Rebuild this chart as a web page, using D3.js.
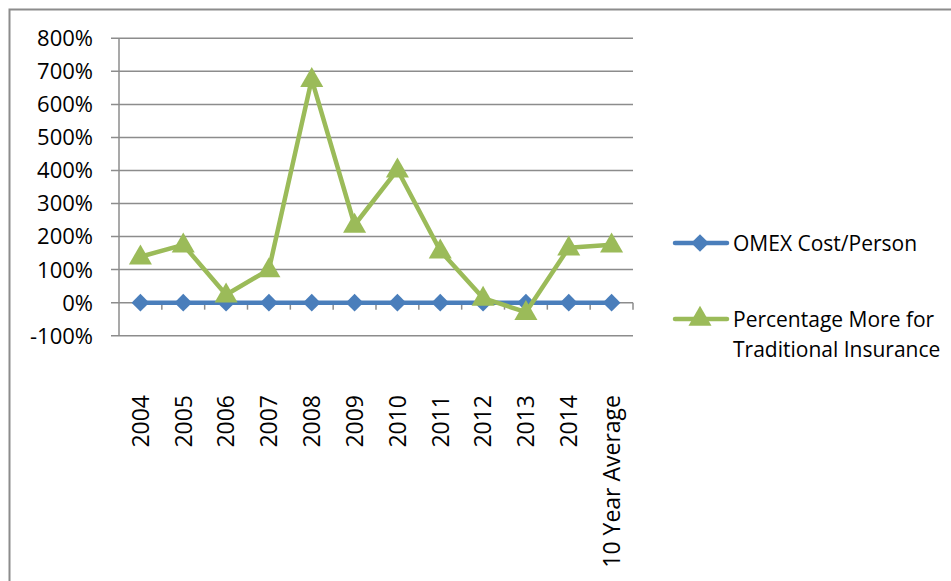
<!doctype html>
<html>
<head>
<meta charset="UTF-8">
<title>OMEX chart</title>
<script src="https://d3js.org/d3.v7.min.js"></script>
<style>
  body { margin: 0; background: #fff; }
  text { font-family: "Open Sans", "DejaVu Sans", sans-serif; fill: #000; }
</style>
</head>
<body>
<svg width="951" height="581"></svg>
<script>
var categories = ["2004", "2005", "2006", "2007", "2008", "2009", "2010", "2011", "2012", "2013", "2014", "10 Year Average"];
var omex = [0, 0, 0, 0, 0, 0, 0, 0, 0, 0, 0, 0];
var traditional = [1.39, 1.75, 0.24, 1.00, 6.76, 2.35, 4.02, 1.57, 0.14, -0.29, 1.66, 1.75];
var yTicks = [-1, 0, 1, 2, 3, 4, 5, 6, 7, 8];
var seriesNames = ["OMEX Cost/Person", "Percentage More for|Traditional Insurance"];

var svg = d3.select("svg");
var plotL = 119, plotR = 633, plotT = 38.3, plotB = 335.7;

// outer chart border
svg.append("rect")
   .attr("x", 9.5).attr("y", 9.5).attr("width", 960).attr("height", 600)
   .attr("fill", "none").attr("stroke", "#8c8c8c").attr("stroke-width", 2);

var x = d3.scaleBand().domain(categories).range([plotL, plotR]);
var y = d3.scaleLinear().domain([-1, 8]).range([plotB, plotT]);
var pct = d3.formatLocale({ decimal: ".", thousands: ",", grouping: [3], currency: ["", ""], minus: "-" }).format(".0%");

// gridlines + left ticks
svg.selectAll("line.grid").data(yTicks).enter().append("line")
   .attr("x1", plotL - 8).attr("x2", plotR)
   .attr("y1", function(d){ return y(d); })
   .attr("y2", function(d){ return y(d); })
   .attr("stroke", "#8c8c8c").attr("stroke-width", 1.5);

// y axis line
svg.append("line").attr("x1", plotL).attr("x2", plotL).attr("y1", plotT).attr("y2", plotB)
   .attr("stroke", "#8c8c8c").attr("stroke-width", 1.5);

// y labels
svg.selectAll("text.ylab").data(yTicks).enter().append("text")
   .attr("x", 93).attr("y", function(d){ return y(d); })
   .attr("dy", "0.36em")
   .attr("text-anchor", "end")
   .attr("font-size", 22)
   .text(function(d){ return pct(d); });

// category ticks on the zero line
var bounds = categories.map(function(c){ return x(c); }).concat([plotR]);
svg.selectAll("line.ctick").data(bounds.slice(1)).enter().append("line")
   .attr("x1", function(d){ return d; }).attr("x2", function(d){ return d; })
   .attr("y1", y(0)).attr("y2", y(0) + 7)
   .attr("stroke", "#8c8c8c").attr("stroke-width", 1.5);

// x labels
svg.selectAll("text.xlab").data(categories).enter().append("text")
   .attr("transform", function(d){
       return "translate(" + (x(d) + x.bandwidth() / 2) + ",395) rotate(-90)";
   })
   .attr("dy", "0.36em")
   .attr("text-anchor", "end")
   .attr("font-family", "'Liberation Sans', Arial, sans-serif")
   .attr("font-size", 23)
   .text(function(d){ return d; });

var line = d3.line()
   .x(function(d, i){ return x(categories[i]) + x.bandwidth() / 2; })
   .y(function(d){ return y(d); });

var blue = "#4a7ebb", green = "#9bbb59";
var diamond = d3.symbol().type(d3.symbolDiamond2).size(200);
var tri = d3.symbol().type(d3.symbolTriangle).size(230);

// OMEX series
svg.append("path").datum(omex).attr("d", line)
   .attr("fill", "none").attr("stroke", blue).attr("stroke-width", 4.5);
svg.selectAll("path.dia").data(omex).enter().append("path")
   .attr("d", diamond)
   .attr("transform", function(d, i){
       return "translate(" + (x(categories[i]) + x.bandwidth() / 2) + "," + y(d) + ")";
   })
   .attr("fill", blue);

// traditional series
svg.append("path").datum(traditional).attr("d", line)
   .attr("fill", "none").attr("stroke", green).attr("stroke-width", 4.5)
   .attr("stroke-linejoin", "round");
svg.selectAll("path.tri").data(traditional).enter().append("path")
   .attr("d", tri)
   .attr("transform", function(d, i){
       return "translate(" + (x(categories[i]) + x.bandwidth() / 2) + "," + (y(d) + 1) + ")";
   })
   .attr("fill", green);

// legend
var legend = [
  { name: seriesNames[0], color: blue, sym: diamond, y: 243 },
  { name: seriesNames[1], color: green, sym: tri, y: 319 }
];
legend.forEach(function(l){
  svg.append("line").attr("x1", 675).attr("x2", 727).attr("y1", l.y).attr("y2", l.y)
     .attr("stroke", l.color).attr("stroke-width", 4.5).attr("stroke-linecap", "round");
  svg.append("path").attr("d", l.sym).attr("transform", "translate(700," + l.y + ")")
     .attr("fill", l.color);
  var t = svg.append("text").attr("x", 733).attr("y", l.y).attr("font-size", 21);
  l.name.split("|").forEach(function(s, i){
     t.append("tspan").attr("x", 733).attr("dy", i === 0 ? "0.36em" : 30).text(s);
  });
});
</script>
</body>
</html>
